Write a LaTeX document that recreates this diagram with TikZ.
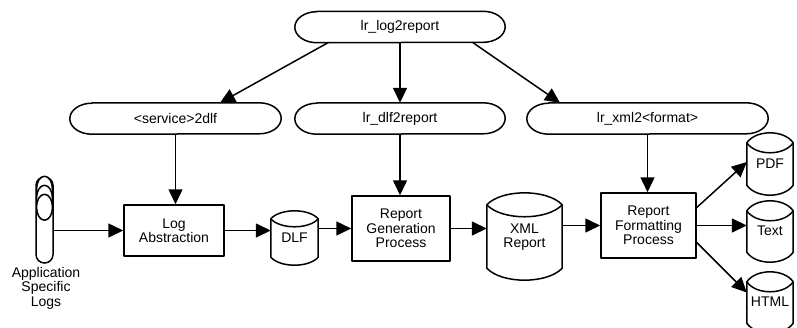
\documentclass[tikz,border=0pt]{standalone}
\usepackage{fontspec}
\setmainfont{Liberation Sans}
\usetikzlibrary{arrows.meta}

% drum (cylinder) store: name, x, y, width, height, end depth, text
\newcommand\drum[7]{%
  \node[inner sep=0pt, minimum width=#4pt, minimum height=#5pt, align=center] (#1) at (#2,#3) {#7};
  \draw[shp] ([yshift=-#6pt]#1.north west)
      .. controls +(0.2*#4,-1.33*#6) and +(-0.2*#4,-1.33*#6) .. ([yshift=-#6pt]#1.north east)
      -- ([yshift=#6pt]#1.south east)
      .. controls +(-0.2*#4,1.33*#6) and +(0.2*#4,1.33*#6) .. ([yshift=#6pt]#1.south west)
      -- cycle;
  \draw[shp] ([yshift=-#6pt]#1.north west)
      .. controls +(0.2*#4,1.33*#6) and +(-0.2*#4,1.33*#6) .. ([yshift=-#6pt]#1.north east);
}

% command oval with elliptic ends: name, x, y, width, text
\newcommand\pill[5]{%
  \node[inner sep=0pt, minimum width=#4pt, minimum height=31pt] (#1) at (#2,#3) {#5};
  \draw[shp] ([xshift=22pt]#1.north west) -- ([xshift=-22pt]#1.north east)
      arc[start angle=90, end angle=-90, x radius=22pt, y radius=15.5pt]
      -- ([xshift=22pt]#1.south west)
      arc[start angle=270, end angle=90, x radius=22pt, y radius=15.5pt] -- cycle;
}

\begin{document}
\begin{tikzpicture}[x=1pt, y=-1pt,
  font=\fontsize{14}{14.5}\selectfont,
  shp/.style={line width=1.5pt, line join=round},
  arr/.style={line width=1.5pt, -{Triangle[length=15pt, width=14pt]}},
  proc/.style={shp, draw, rectangle, align=center, inner sep=0pt}]

\useasboundingbox (0,0) rectangle (797,327);

% commands
\pill{top}{400}{27}{210}{lr\_log2report}
\pill{svc}{175.5}{118.5}{211}{<service>2dlf}
\pill{dlfr}{400}{118.5}{210}{lr\_dlf2report}
\pill{xmlf}{647.5}{118.5}{241}{lr\_xml2<format>}

% processes
\node[proc, minimum width=100pt, minimum height=51pt] (la)  at (174,230.5) {Log\\Abstraction};
\node[proc, minimum width=98pt,  minimum height=65pt] (rgp) at (401,228.5) {Report\\Generation\\Process};
\node[proc, minimum width=95pt,  minimum height=65pt] (rfp) at (648.5,225.5) {Report\\Formatting\\Process};

% data stores
\drum{dlf}{294.5}{238}{47}{54}{8}{DLF}
\drum{xml}{524.5}{236.5}{75}{87}{12}{\\[-4pt]XML\\Report}
\drum{pdf}{770}{164}{46}{62}{10}{\\[-6pt]PDF}
\drum{txt}{770}{231.5}{46}{61}{10}{\\[-6pt]Text}
\drum{html}{770}{302.5}{46}{61}{10}{\\[-6pt]HTML}

% application log stack
\node[shp, draw, rectangle, rounded corners=8.4pt, minimum width=17pt, minimum height=86pt, inner sep=0pt] (logs) at (44.5,220) {};
\draw[shp, fill=white] ([yshift=-13pt]logs.north) ellipse [x radius=8pt, y radius=13pt];
\draw[shp, fill=white] ([yshift=-22pt]logs.north) ellipse [x radius=8pt, y radius=13pt];
\draw[shp, fill=white] ([yshift=-31pt]logs.north) ellipse [x radius=8pt, y radius=13pt];
\node[align=center, anchor=north, inner sep=0pt] (logtxt) at (46,267) {Application\\Specific\\Logs};

% command hierarchy
\draw[arr] ([xshift=-72pt]top.south) -- ([xshift=44.5pt]svc.north);
\draw[arr] (top.south) -- (dlfr.north);
\draw[arr] ([xshift=73pt]top.south) -- ([xshift=-87.5pt]xmlf.north);
\draw[arr] (svc.south) -- (svc.south |- la.north);
\draw[arr] (dlfr.south) -- (dlfr.south |- rgp.north);
\draw[arr] (xmlf.south) -- (xmlf.south |- rfp.north);

% data flow
\draw[arr] (logs.east |- la.west) -- (la.west);
\draw[arr] (la.east) -- (la.east -| dlf.west);
\draw[arr] (dlf.east |- rgp.west) -- (rgp.west);
\draw[arr] (rgp.east) -- (rgp.east -| xml.west);
\draw[arr] (xml.east |- rfp.west) -- (rfp.west);
\draw[arr] ([yshift=18pt]rfp.east) -- ([yshift=2pt]pdf.west);
\draw[arr] (rfp.east) -- (rfp.east -| txt.west);
\draw[arr] ([yshift=-17pt]rfp.east) -- ([yshift=10pt]html.west);
\end{tikzpicture}
\end{document}
